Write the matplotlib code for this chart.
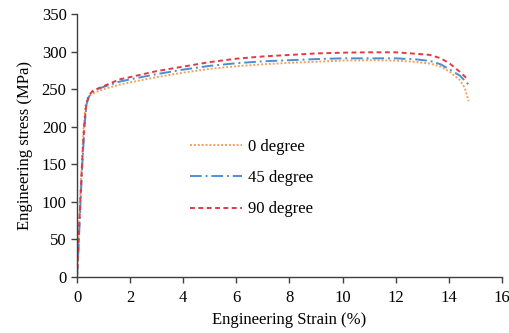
import matplotlib
matplotlib.use("Agg")
import matplotlib.pyplot as plt

strain_0 = [0, 0.05, 0.1, 0.18, 0.25, 0.32, 0.4, 0.5, 0.7, 1, 1.6, 2, 3, 4, 5, 6, 7, 8, 9, 10, 11, 12, 12.8, 13.3, 13.7, 14.04, 14.42, 14.6, 14.75]
stress_0 = [0, 40, 90, 150, 200, 228, 238, 242, 246, 250, 256, 259, 266, 272, 277, 280.5, 283, 285, 286.5, 288, 288.5, 288, 286, 284, 280, 273, 262, 252, 234]

strain_45 = [0, 0.06, 0.12, 0.2, 0.28, 0.36, 0.45, 0.55, 0.7, 1, 1.6, 2, 3, 4, 5, 6, 7, 8, 9, 10, 11, 12, 12.8, 13.3, 13.7, 14.04, 14.42, 14.75]
stress_45 = [0, 40, 90, 150, 200, 230, 240, 245, 249, 253, 260, 263, 270, 276, 281, 284.5, 287, 288.5, 290, 291, 291, 291, 289.5, 287.5, 283, 276, 268, 256]

strain_90 = [0, 0.05, 0.11, 0.19, 0.27, 0.35, 0.45, 0.6, 0.8, 1, 1.6, 2, 3, 4, 5, 6, 7, 8, 9, 10, 11, 12, 12.8, 13.3, 13.7, 14.04, 14.42, 14.75]
stress_90 = [0, 40, 90, 150, 200, 230, 242, 248, 251, 254, 263, 266, 274, 280, 286, 290.5, 293.5, 295.5, 297.5, 298.5, 299, 299, 297, 295.5, 291, 284, 273, 262]

labels = ["0 degree", "45 degree", "90 degree"]
x_ticks = [0, 2, 4, 6, 8, 10, 12, 14, 16]
y_ticks = [0, 50, 100, 150, 200, 250, 300, 350]

plt.rcParams['font.family'] = ['Liberation Serif', 'DejaVu Serif']

fig = plt.figure(figsize=(5.1, 3.33), dpi=100)
ax = fig.add_axes([0.151, 0.168, 0.833, 0.79])

ax.plot(strain_0, stress_0, color='#F4A15A', linestyle=(0, (1, 1)), lw=1.4, label=labels[0])
ax.plot(strain_45, stress_45, color='#4A8FD6', linestyle=(0, (6, 2, 1, 2)), lw=1.4, label=labels[1])
ax.plot(strain_90, stress_90, color='#E23A45', linestyle=(0, (2.5, 1.8)), lw=1.4, label=labels[2])

ax.set_xlim(0, 16)
ax.set_ylim(0, 350)
ax.set_xticks(x_ticks)
ax.set_yticks(y_ticks)
for s in ['top', 'right']:
    ax.spines[s].set_visible(False)
for s in ['left', 'bottom']:
    ax.spines[s].set_color('#404040')
    ax.spines[s].set_linewidth(1.0)
ax.tick_params(axis='both', direction='out', length=4.5, width=1.0, color='#404040', labelsize=12)
ax.tick_params(axis='x', pad=5)
ax.tick_params(axis='y', pad=3)
ax.set_xlabel("Engineering Strain (%)", fontsize=12, labelpad=4)
ax.set_ylabel("Engineering stress (MPa)", fontsize=12, labelpad=6)

leg = ax.legend(loc='center left', bbox_to_anchor=(0.266, 0.376), frameon=False,
                fontsize=12, handlelength=3.1, handletextpad=0.36, labelspacing=0.92,
                borderpad=0, borderaxespad=0)

fig.savefig("out.png", dpi=100)
